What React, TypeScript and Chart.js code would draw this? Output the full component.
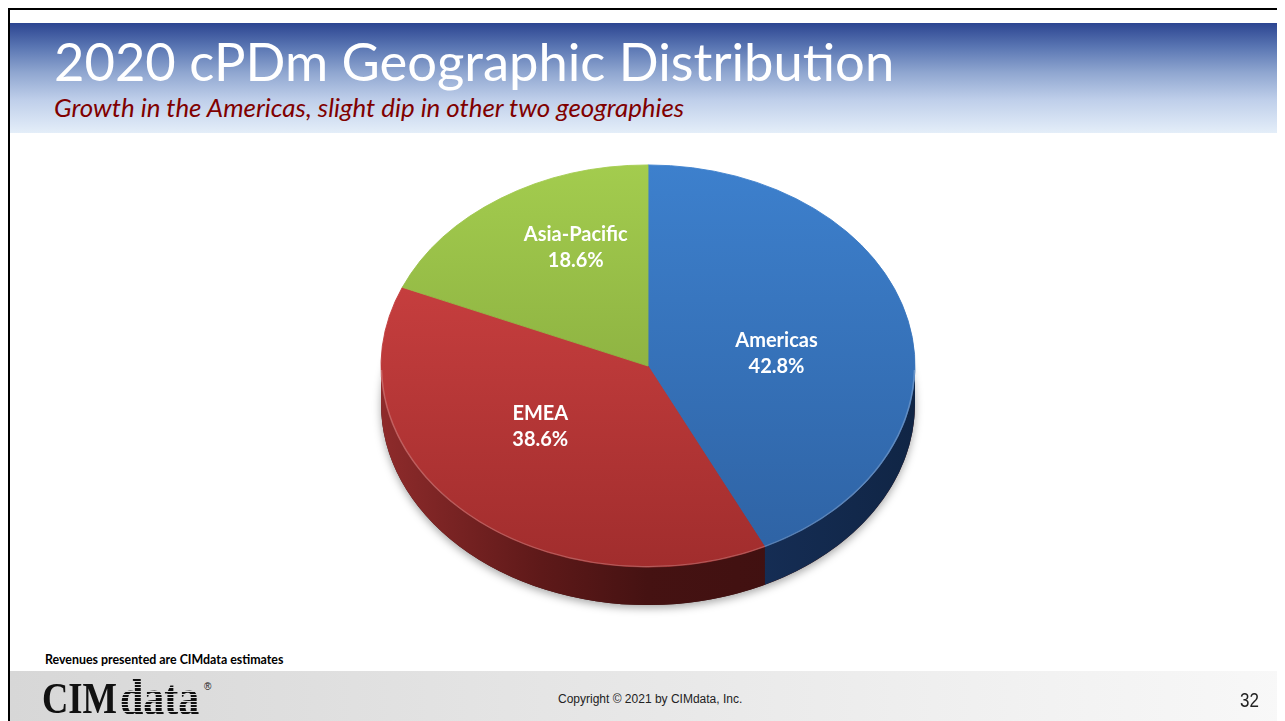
import React, { useEffect, useRef } from "react";
import { Chart, registerables } from "chart.js";

Chart.register(...registerables);

// ---- data ----
const categories = ["Americas", "EMEA", "Asia-Pacific"];
const shares = [42.8, 38.6, 18.6];
const shareLabels = ["42.8%", "38.6%", "18.6%"];

// ---- styles ----
const topColors: string[][] = [
  ["#3D80CD", "#2E62A3"],
  ["#D54545", "#A12D2D"],
  ["#A3CC4E", "#7B9C37"],
];
const sideStops: [number, string][][] = [
  [[0, "#1E3A62"], [0.6, "#17305A"], [1, "#102545"]],
  [[0, "#8E2B2B"], [0.3, "#5E1919"], [0.5, "#451212"], [1, "#3C0F0F"]],
  [[0, "#5C7D27"], [1, "#3E5519"]],
];

const RX = 267; // horizontal radius of the pie
const K = 0.753; // vertical squash (tilt)
const DEPTH = 38; // visible thickness in px
const LABEL_TURN = 0.14; // perspective-like shift of label angle
const LABEL_LIFT = -4;

function applyTilt(ctx: CanvasRenderingContext2D, cx: number, cy: number) {
  ctx.translate(cx, cy);
  ctx.scale(1, K);
  ctx.translate(-cx, -cy);
}

const pie3d = {
  id: "pie3d",
  beforeDatasetsDraw(chart: any) {
    const meta = chart.getDatasetMeta(0);
    const arcs = meta.data;
    if (!arcs.length) return;
    const { x: cx, y: cy, outerRadius: r } = arcs[0].getProps(["x", "y", "outerRadius"], true);
    const ctx: CanvasRenderingContext2D = chart.ctx;
    const D = DEPTH / K;
    ctx.save();
    applyTilt(ctx, cx, cy);
    // base with soft shadow
    ctx.save();
    ctx.shadowColor = "rgba(0,0,0,0.35)";
    ctx.shadowBlur = 9;
    ctx.shadowOffsetY = 3;
    ctx.beginPath();
    ctx.arc(cx, cy + D, r, 0, Math.PI * 2);
    ctx.fillStyle = "#3a1212";
    ctx.fill();
    ctx.restore();
    // side walls (front half only)
    arcs.forEach((arc: any, i: number) => {
      const { startAngle, endAngle } = arc.getProps(["startAngle", "endAngle"], true);
      for (const shift of [0, Math.PI * 2, -Math.PI * 2]) {
        const a0 = Math.max(startAngle + shift, 0);
        const a1 = Math.min(endAngle + shift, Math.PI);
        if (a1 > a0) {
          ctx.beginPath();
          ctx.arc(cx, cy, r, a0, a1);
          ctx.arc(cx, cy + D, r, a1, a0, true);
          ctx.closePath();
          const g = ctx.createLinearGradient(cx - r, 0, cx + r, 0);
          sideStops[i].forEach(([o, c]) => g.addColorStop(o, c));
          ctx.fillStyle = g;
          ctx.fill();
        }
      }
    });
    ctx.restore();
    ctx.save();
    applyTilt(ctx, cx, cy);
  },
  afterDatasetsDraw(chart: any) {
    const ctx: CanvasRenderingContext2D = chart.ctx;
    const arcs = chart.getDatasetMeta(0).data;
    if (!arcs.length) {
      return;
    }
    const { x: cx, y: cy, outerRadius: r } = arcs[0].getProps(["x", "y", "outerRadius"], true);
    // light rim on the front edge of the top face
    ctx.beginPath();
    ctx.arc(cx, cy, r - 0.5, 0.02, Math.PI - 0.02);
    ctx.strokeStyle = "rgba(255,255,255,0.22)";
    ctx.lineWidth = 1.5;
    ctx.stroke();
    ctx.restore();
    // labels at the slice centroid
    ctx.save();
    ctx.fillStyle = "#FFFFFF";
    ctx.font = "bold 20px Lato";
    ctx.textAlign = "center";
    ctx.textBaseline = "middle";
    arcs.forEach((arc: any, i: number) => {
      const { startAngle, endAngle } = arc.getProps(["startAngle", "endAngle"], true);
      const span = endAngle - startAngle;
      const f = (4 * Math.sin(span / 2)) / (3 * span);
      const mid = (startAngle + endAngle) / 2 + LABEL_TURN;
      const lx = cx + Math.cos(mid) * r * f;
      const ly = cy + LABEL_LIFT + Math.sin(mid) * r * f * K;
      ctx.fillText(categories[i], lx, ly - 13);
      ctx.fillText(shareLabels[i], lx, ly + 13);
    });
    ctx.restore();
  },
};

function PieChart() {
  const ref = useRef<HTMLCanvasElement | null>(null);
  useEffect(() => {
    if (!ref.current) return;
    const fill = (c: any) => {
      const i = c.dataIndex;
      const chart = c.chart;
      const area = chart.chartArea;
      if (!area) return topColors[i][0];
      const cy = (area.top + area.bottom) / 2;
      const g = chart.ctx.createLinearGradient(0, cy - RX, 0, cy + RX);
      g.addColorStop(0, topColors[i][0]);
      g.addColorStop(1, topColors[i][1]);
      return g;
    };
    const chart = new Chart(ref.current, {
      type: "pie",
      data: {
        labels: categories,
        datasets: [
          {
            data: shares,
            backgroundColor: fill,
            borderColor: fill,
            borderWidth: 1,
          },
        ],
      },
      options: {
        responsive: false,
        animation: false,
        radius: RX,
        events: [],
        layout: { padding: 0 },
        plugins: { legend: { display: false }, tooltip: { enabled: false } },
      } as any,
      plugins: [pie3d as any],
    });
    return () => chart.destroy();
  }, []);
  return (
    <canvas
      ref={ref}
      width={600}
      height={520}
      style={{ position: "absolute", left: 340, top: 98, width: 600, height: 520, zIndex: 2 }}
    />
  );
}

export default function App() {
  return (
    <div
      style={{
        position: "relative",
        width: 1277,
        height: 713,
        overflow: "hidden",
        background: "#fff",
      }}
    >
      <style>{`html,body{overflow:hidden}`}</style>
      {/* frame */}
      <div style={{ position: "absolute", left: 0, top: 0, right: 0, height: 2, background: "#000", zIndex: 3 }} />
      <div style={{ position: "absolute", left: 0, top: 0, bottom: 0, width: 2, background: "#000", zIndex: 3 }} />
      {/* header */}
      <div
        style={{
          position: "absolute",
          left: 2,
          right: 0,
          top: 15,
          height: 110,
          background:
            "linear-gradient(to bottom, #2C4591 0%, #5A76B3 22%, #8FA6D0 45%, #BFCFEA 70%, #E4EEF9 100%)",
        }}
      />
      <div
        style={{
          position: "absolute",
          left: 46,
          top: 27,
          fontFamily: "Lato, sans-serif",
          fontWeight: 400,
          fontSize: 52.5,
          lineHeight: "52.5px",
          color: "#FFFFFF",
          whiteSpace: "nowrap",
        }}
      >
        2020 cPDm Geographic Distribution
      </div>
      <div
        style={{
          position: "absolute",
          left: 46,
          top: 87,
          fontFamily: "Lato, sans-serif",
          fontStyle: "italic",
          fontSize: 25.9,
          lineHeight: "25.9px",
          color: "#800000",
          whiteSpace: "nowrap",
        }}
      >
        Growth in the Americas, slight dip in other two geographies
      </div>

      <PieChart />

      {/* footer */}
      <div
        style={{
          position: "absolute",
          left: 37,
          top: 646,
          fontFamily: "Lato, sans-serif",
          fontWeight: 700,
          fontSize: 12.4,
          lineHeight: "12.4px",
          color: "#000",
          whiteSpace: "nowrap",
        }}
      >
        Revenues presented are CIMdata estimates
      </div>
      <div
        style={{
          position: "absolute",
          left: 2,
          right: 0,
          top: 663,
          height: 50,
          background: "linear-gradient(to right, #D7D7D7 0%, #E6E6E6 45%, #F8F8F8 100%)",
        }}
      />
      <div
        style={{
          position: "absolute",
          left: 34,
          top: 669,
          fontFamily: "'Liberation Serif', serif",
          fontWeight: 700,
          fontSize: 44,
          lineHeight: "44px",
          color: "#111",
          transform: "scaleX(0.83)",
          transformOrigin: "left top",
          whiteSpace: "nowrap",
        }}
      >
        CIM
      </div>
      <div
        style={{
          position: "absolute",
          left: 112,
          top: 664,
          fontFamily: "'Liberation Serif', serif",
          fontWeight: 700,
          fontSize: 50,
          lineHeight: "50px",
          whiteSpace: "nowrap",
          color: "transparent",
          backgroundImage:
            "repeating-linear-gradient(to bottom, #111 0px, #111 2.3px, rgba(0,0,0,0) 2.3px, rgba(0,0,0,0) 3.3px)",
          WebkitBackgroundClip: "text",
          backgroundClip: "text",
          transform: "scaleX(0.84)",
          transformOrigin: "left top",
        }}
      >
        data
      </div>
      <div
        style={{
          position: "absolute",
          left: 196,
          top: 674,
          fontFamily: "Arial, 'Liberation Sans', sans-serif",
          fontSize: 10,
          lineHeight: "10px",
          color: "#111",
        }}
      >
        ®
      </div>
      <div
        style={{
          position: "absolute",
          left: 550,
          top: 685,
          fontFamily: "'Liberation Sans', Arial, sans-serif",
          fontSize: 12,
          lineHeight: "12px",
          color: "#222",
          whiteSpace: "nowrap",
        }}
      >
        Copyright © 2021 by CIMdata, Inc.
      </div>
      <div
        style={{
          position: "absolute",
          left: 1232,
          top: 682,
          fontFamily: "'Liberation Sans', Arial, sans-serif",
          fontSize: 20,
          lineHeight: "20px",
          color: "#222",
          transform: "scaleX(0.85)",
          transformOrigin: "left top",
        }}
      >
        32
      </div>
    </div>
  );
}
